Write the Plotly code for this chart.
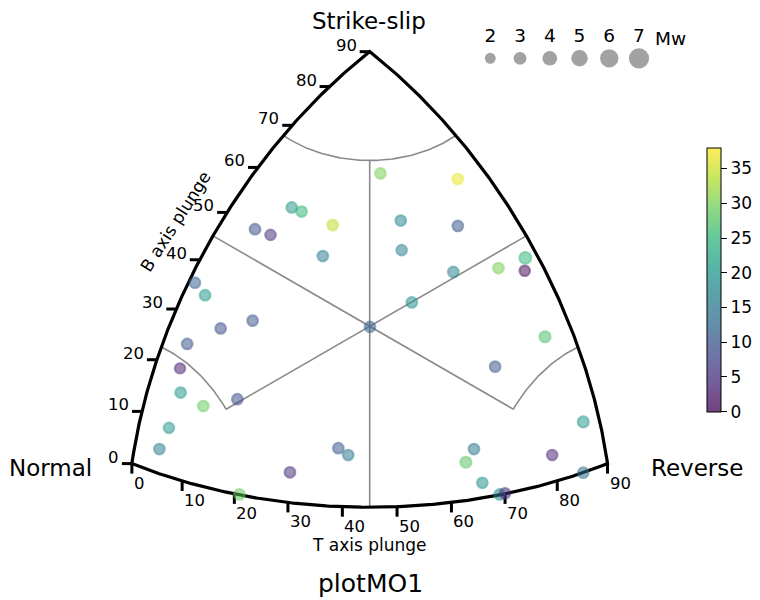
import numpy as np
import plotly.graph_objects as go
from plotly.colors import sequential, hex_to_rgb

# ---------------- data ----------------
# Kaverina-projection coordinates of each mechanism
kav_x = [0.036, 0.295, -0.261, -0.228, -0.124, -0.384, -0.332, -0.157, 0.104, 0.295,
         0.107, 0.280, 0.141, 0.521, 0.431, 0.519, 0.587, 0.420, 0.715, -0.585,
         -0.551, -0.392, -0.499, 0.001, -0.611, -0.635, -0.633, -0.557, -0.443, -0.672,
         -0.704, -0.436, -0.267, -0.105, -0.072, 0.349, 0.322, 0.377, 0.435, 0.453,
         0.611, 0.715]
kav_y = [0.512, 0.493, 0.398, 0.384, 0.339, 0.325, 0.306, 0.235, 0.354, 0.336,
         0.255, 0.182, 0.080, 0.229, 0.195, 0.186, -0.035, -0.135, -0.320, 0.146,
         0.104, 0.019, -0.007, -0.002, -0.059, -0.141, -0.222, -0.267, -0.244, -0.340,
         -0.411, -0.563, -0.489, -0.408, -0.431, -0.411, -0.455, -0.524, -0.563, -0.559,
         -0.431, -0.490]
depth_km = [30, 37, 20, 25, 34, 9, 5, 16, 17, 10,
            16, 17, 19, 25, 30, 1, 27, 10, 20, 12,
            20, 10, 9, 12, 10, 3, 20, 29, 9, 20,
            16, 29, 5, 10, 15, 15, 28, 19, 18, 5,
            4, 14]
mag_mw = [3.0, 3.0, 3.0, 3.0, 3.0, 3.0, 2.9, 3.0, 3.0, 3.0,
          2.9, 3.0, 3.0, 3.6, 3.0, 2.9, 3.2, 3.0, 3.2, 3.0,
          3.0, 3.0, 3.0, 2.9, 3.0, 2.8, 3.0, 3.0, 3.0, 2.9,
          3.0, 3.0, 3.0, 3.0, 3.0, 3.0, 3.2, 3.0, 3.0, 2.9,
          2.9, 3.0]
legend_mw = [2, 3, 4, 5, 6, 7]
plunge_ticks = [0, 10, 20, 30, 40, 50, 60, 70, 80, 90]
cbar_ticks = [0, 5, 10, 15, 20, 25, 30, 35]
depth_range = [0, 38]
class_limit = 67.5

# ---------------- geometry ----------------
W, H = 760, 600
S = 298.7            # px per projection unit
CX, CY = 369.7, 326.3
FONT = "DejaVu Sans"
TL = 10.0 / S        # tick length
LW = 2.2             # marker ring width


def kave(t, b, p):
    t, b, p = (np.radians(np.asarray(v, dtype=float)) for v in (t, b, p))
    zt, zb, zp = np.sin(t), np.sin(b), np.sin(p)
    L = 2 * np.sin(0.5 * np.arccos(np.clip((zt + zb + zp) / np.sqrt(3), -1, 1)))
    N = np.sqrt(2 * ((zb - zp) ** 2 + (zb - zt) ** 2 + (zt - zp) ** 2))
    x = np.sqrt(3) * (L / N) * (zt - zp)
    y = (L / N) * (2 * zb - zp - zt)
    return x, y


def pair(fixed, phi):
    c = np.cos(np.radians(fixed))
    ph = np.radians(np.asarray(phi, dtype=float))
    return np.degrees(np.arcsin(c * np.cos(ph))), np.degrees(np.arcsin(c * np.sin(ph)))


def mw_diam(m):
    return 7.2 + 1.85 * np.asarray(m, dtype=float)


s = np.linspace(0, 90, 181)
z = np.zeros_like(s)
bx, by = kave(s, z, 90 - s)
rx, ry = kave(90 - s, s, z)
lx, ly = kave(z, s[::-1], 90 - s[::-1])
frame_x = np.concatenate([bx, rx, lx])
frame_y = np.concatenate([by, ry, ly])

gx, gy = [], []
phi = np.linspace(0, 90, 91)
a, b = pair(class_limit, phi)
x_, y_ = kave(a, class_limit, b)
gx += list(x_) + [None]; gy += list(y_) + [None]
phi2 = np.linspace(0, 45, 46)
a, b = pair(class_limit, phi2)
x_, y_ = kave(b, a, class_limit)
gx += list(x_) + [None]; gy += list(y_) + [None]
x_, y_ = kave(class_limit, a, b)
gx += list(x_) + [None]; gy += list(y_) + [None]
# straight lines through the centre
eq = lambda v: np.degrees(np.arcsin(np.cos(np.radians(v)) / np.sqrt(2)))
ends = [((eq(class_limit), class_limit, eq(class_limit)), (45, 0, 45)),
        ((0, 45, 45), (class_limit, eq(class_limit), eq(class_limit))),
        ((45, 45, 0), (eq(class_limit), eq(class_limit), class_limit))]
for e1, e2 in ends:
    x1, y1 = kave(*e1)
    x2, y2 = kave(*e2)
    gx += [float(x1), float(x2), None]
    gy += [float(y1), float(y2), None]

tx, ty = [], []
ann = []
for v in plunge_ticks:
    x0, y0 = kave(0, v, 90 - v)
    x0, y0 = float(x0), float(y0)
    tx += [x0, x0 - TL, None]; ty += [y0, y0, None]
    ann.append(dict(x=x0 - TL, y=y0, text=str(v), xanchor="right", yanchor="bottom",
                    yshift=-5, xshift=-1, showarrow=False,
                    font=dict(size=16.5, family=FONT, color="black")))
    x0, y0 = kave(v, 0, 90 - v)
    x0, y0 = float(x0), float(y0)
    tx += [x0, x0, None]; ty += [y0, y0 - TL, None]
    ann.append(dict(x=x0, y=y0 - TL, text=str(v), xanchor="left", yanchor="top",
                    yshift=2, showarrow=False,
                    font=dict(size=16.5, family=FONT, color="black")))

vir = [f"rgba({r},{g},{bb},0.75)" for r, g, bb in (hex_to_rgb(h) for h in sequential.Viridis)]
cscale = [[i / (len(vir) - 1), c] for i, c in enumerate(vir)]

fig = go.Figure()
fig.add_trace(go.Scatter(x=gx, y=gy, mode="lines", line=dict(color="#8a8a8a", width=1.6),
                         hoverinfo="skip", showlegend=False))
fig.add_trace(go.Scatter(x=list(frame_x), y=list(frame_y), mode="lines",
                         line=dict(color="black", width=3.2), hoverinfo="skip", showlegend=False))
fig.add_trace(go.Scatter(x=tx, y=ty, mode="lines", line=dict(color="black", width=3),
                         hoverinfo="skip", showlegend=False))
fig.add_trace(go.Scatter(
    x=kav_x, y=kav_y, mode="markers", showlegend=False,
    marker=dict(size=mw_diam(mag_mw) - LW, color=depth_km, colorscale=cscale,
                cmin=depth_range[0], cmax=depth_range[1],
                line=dict(width=LW, color=depth_km, colorscale=cscale,
                          cmin=depth_range[0], cmax=depth_range[1]),
                colorbar=dict(thickness=14, thicknessmode="pixels", len=264, lenmode="pixels",
                              x=706.7 / W, xanchor="left", xpad=0, y=1 - 279.7 / H,
                              yanchor="middle", ypad=0, outlinecolor="black", outlinewidth=1,
                              ticks="outside", ticklen=6, tickwidth=1, tickcolor="black",
                              tickvals=cbar_ticks,
                              tickfont=dict(size=17, family=FONT, color="black")))))
# size legend
fig.add_trace(go.Scatter(x=legend_mw, y=[0] * len(legend_mw), xaxis="x2", yaxis="y2",
                         mode="markers", showlegend=False,
                         marker=dict(size=mw_diam(legend_mw), color="#7b7b7b", line=dict(width=0))))
fig.add_trace(go.Scatter(x=legend_mw, y=[1] * len(legend_mw), xaxis="x2", yaxis="y2",
                         mode="text", text=[str(m) for m in legend_mw], showlegend=False,
                         textfont=dict(size=18.5, family=FONT, color="black")))

def pann(x, y, text, size, **kw):
    d = dict(x=x / W, y=1 - y / H, xref="paper", yref="paper", text=text, showarrow=False,
             font=dict(size=size, family=FONT, color="black"), xanchor="center", yanchor="middle")
    d.update(kw)
    return d

ann += [
    pann(368.8, 21, "Strike-slip", 23),
    pann(50, 468, "Normal", 23),
    pann(697, 468, "Reverse", 23),
    pann(670, 38, "Mw", 18.5),
    pann(369.7, 545, "T axis plunge", 17),
    pann(370, 583, "plotMO1", 25),
    pann(175, 221.7, "B axis plunge", 17, textangle=-57.5),
]

fig.update_layout(
    width=W, height=H, margin=dict(l=0, r=0, t=0, b=0, autoexpand=False),
    paper_bgcolor="white", plot_bgcolor="white",
    xaxis=dict(range=[-CX / S, (W - CX) / S], visible=False, fixedrange=True),
    yaxis=dict(range=[-(H - CY) / S, CY / S], visible=False, fixedrange=True),
    xaxis2=dict(domain=[0.62, 0.86], range=[1.358, 7.491], anchor="y2", visible=False),
    yaxis2=dict(domain=[0.85, 1.0], range=[-1.539, 2.830], anchor="x2", visible=False),
    annotations=ann,
)
fig.write_html("out.html")
